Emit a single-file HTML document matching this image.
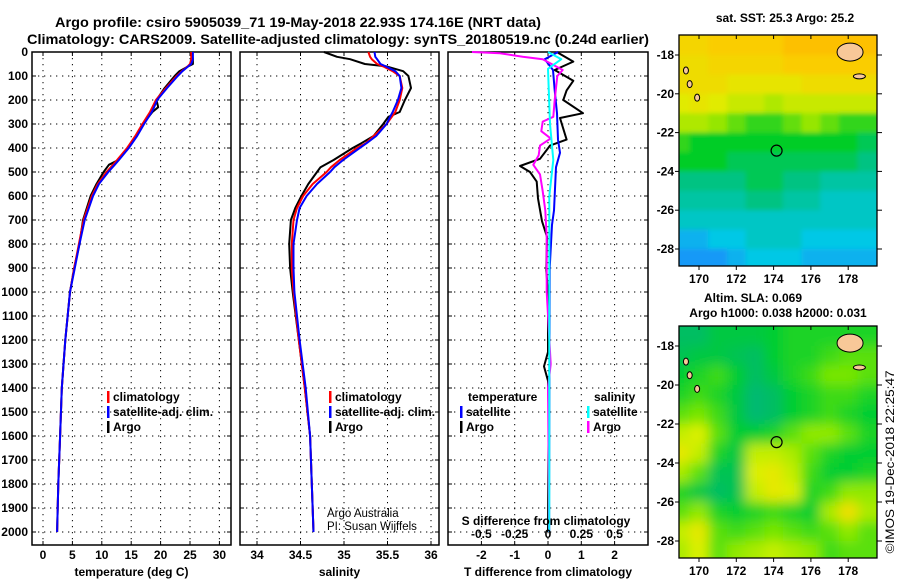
<!DOCTYPE html>
<html><head><meta charset="utf-8"><style>
html,body{margin:0;padding:0;background:#fff;}
svg{display:block;font-family:"Liberation Sans",sans-serif;font-weight:bold;}
</style></head><body>
<svg id="chart" width="900" height="580" viewBox="0 0 900 580" xmlns="http://www.w3.org/2000/svg">
<defs>
<clipPath id="clipTop"><rect x="679" y="35" width="198" height="231"/></clipPath>
<clipPath id="clipBot"><rect x="679" y="326" width="198" height="232"/></clipPath>
<filter id="blurS" x="-5%" y="-5%" width="110%" height="110%"><feGaussianBlur stdDeviation="2.5"/></filter>
<filter id="blurL" x="-5%" y="-5%" width="110%" height="110%"><feGaussianBlur stdDeviation="6"/></filter>
</defs>
<text x="298" y="27" text-anchor="middle" font-size="14" textLength="486" lengthAdjust="spacingAndGlyphs">Argo profile: csiro 5905039_71 19-May-2018 22.93S 174.16E (NRT data)</text>
<text x="338" y="44" text-anchor="middle" font-size="14" textLength="622" lengthAdjust="spacingAndGlyphs">Climatology: CARS2009. Satellite-adjusted climatology: synTS_20180519.nc (0.24d earlier)</text>
<text x="785" y="22" text-anchor="middle" font-size="12">sat. SST: 25.3 Argo: 25.2</text>
<text x="753" y="302" text-anchor="middle" font-size="12">Altim. SLA: 0.069</text>
<text x="778" y="317" text-anchor="middle" font-size="12">Argo h1000: 0.038 h2000: 0.031</text>
<text transform="translate(894,462) rotate(-90)" text-anchor="middle" font-size="12" font-weight="normal" textLength="183" lengthAdjust="spacingAndGlyphs">©IMOS 19-Dec-2018 22:25:47</text>
<g id="layer"></g>
</svg>
<script>
// ---- profile data ----
const tempDepth = [0,30,50,60,80,100,150,200,230,250,300,350,400,450,470,500,550,600,700,800,900,1000,1200,1400,1600,1800,2000];
const tempArgo  = [25.3,25.5,25.5,24.7,23.2,22.4,20.7,19.3,19.6,18.6,17,15.9,14.5,12.8,11.2,10.3,9.1,8.1,6.8,6.2,5.3,4.6,3.8,3.2,2.9,2.6,2.4];
const tempClim  = [25.2,25.2,25.0,24.6,23.6,22.7,20.9,19.2,18.6,18.2,16.9,15.7,14.3,12.6,11.9,10.8,9.3,8.3,6.9,6.1,5.3,4.6,3.8,3.2,2.9,2.6,2.4];
const tempSat   = [25.5,25.5,25.2,24.7,23.7,22.9,21.1,19.4,18.9,18.5,17.2,16.0,14.6,12.9,12.2,11.1,9.5,8.5,7.1,6.2,5.4,4.6,3.8,3.2,2.9,2.6,2.4];
const salDepth = [0,20,30,50,60,80,100,150,200,250,270,300,350,380,400,450,480,500,550,600,650,700,800,900,1000,1200,1400,1600,1800,2000];
const salArgo  = [34.77,34.92,35.07,35.24,35.49,35.68,35.74,35.77,35.70,35.64,35.51,35.45,35.34,35.2,35.1,34.88,34.73,34.69,34.59,34.51,34.44,34.39,34.37,34.38,34.41,34.48,34.55,34.61,34.63,34.65];
const salClim  = [35.28,35.3,35.32,35.38,35.45,35.56,35.64,35.67,35.64,35.59,35.55,35.49,35.34,35.25,35.15,34.95,34.85,34.80,34.64,34.53,34.46,34.42,34.40,34.40,34.42,34.48,34.55,34.61,34.63,34.65];
const salSat   = [35.35,35.36,35.38,35.42,35.48,35.59,35.64,35.66,35.62,35.56,35.53,35.49,35.37,35.26,35.18,34.99,34.89,34.84,34.69,34.57,34.49,34.46,34.42,34.42,34.43,34.49,34.56,34.61,34.63,34.65];
const dTArgoDepth = [0,40,75,120,160,200,255,275,365,390,445,475,500,540,610,705,770,910,1000,1250,1310,1370,1500,2000];
const dTArgo      = [0.26,0.76,0.2,0.76,0.56,0.46,1.05,0.36,0.56,0.06,-0.24,-0.84,-0.54,-0.34,-0.3,-0.18,-0.03,-0.05,0,0,-0.12,0,0.02,0];
const dTSatDepth = [0,30,75,160,255,365,420,480,660,720,900,2000];
const dTSat      = [0.3,-0.1,0.15,0.2,0.27,0.3,0.36,0.24,0.18,0.12,0.05,0.03];
const dSArgoDepth = [0,5,20,30,75,100,200,270,290,330,360,390,430,470,510,580,660,770,1000,1300,1400,2000];
const dSArgo      = [-0.57,-0.36,-0.19,-0.04,0.11,0.07,0.05,0.04,-0.04,-0.05,0.02,-0.06,-0.07,-0.11,-0.06,-0.04,-0.02,-0.01,-0.01,0.02,0.0,0.01];
const dSSatDepth = [0,30,70,300,450,600,2000];
const dSSat      = [0,0.1,0,0.015,0.04,0.01,0.01];
const depthTicks = [0,100,200,300,400,500,600,700,800,900,1000,1100,1200,1300,1400,1500,1600,1700,1800,1900,2000];
const tempTicks = [0,5,10,15,20,25,30];
const salTicks = [34,34.5,35,35.5,36];
const salTickLabels = ["34","34.5","35","35.5","36"];
const dTTicks = [-2,-1,0,1,2];
const dSTicks = [-0.5,-0.25,0,0.25,0.5];
const dSTickLabels = ["-0.5","-0.25","0","0.25","0.5"];
// ---- map data (rows lat -17.5 .. -28.5, cols lon 169 .. 179) ----
const mapLons = [169,170,171,172,173,174,175,176,177,178,179];
const mapLats = [-17.5,-18.5,-19.5,-20.5,-21.5,-22.5,-23.5,-24.5,-25.5,-26.5,-27.5,-28.5];
const sstGrid = [
[25.9,25.9,26,26,26,26,26.1,26.1,26.1,26.1,26.1],
[25.8,25.8,25.9,25.9,25.9,25.9,26,26,26,26,26],
[25.8,25.8,25.8,25.7,25.7,25.7,25.7,25.8,25.8,25.8,25.8],
[25.6,25.7,25.6,25.5,25.5,25.4,25.5,25.5,25.5,25.5,25.5],
[25.4,25.4,25.3,25.2,25.1,25.1,25.2,25.3,25.2,25.1,25.1],
[25.1,25.0,25.0,25.0,25.0,25.0,25.0,25.0,25.0,25.0,24.9],
[25.0,25.0,25.0,24.9,24.9,24.9,24.9,24.9,24.9,24.9,24.8],
[24.8,24.8,24.8,24.8,24.9,24.9,24.8,24.8,24.7,24.7,24.7],
[24.7,24.7,24.7,24.7,24.8,24.8,24.7,24.7,24.6,24.6,24.6],
[24.6,24.6,24.6,24.6,24.6,24.6,24.6,24.6,24.6,24.6,24.6],
[24.4,24.4,24.5,24.5,24.6,24.6,24.6,24.5,24.5,24.5,24.5],
[24.3,24.3,24.3,24.4,24.5,24.5,24.5,24.4,24.4,24.4,24.4]];
const slaGrid = [
[0.3,0.3,0.4,0.4,0.4,0.45,0.5,0.5,0.5,0.5,0.5],
[0.35,0.4,0.4,0.35,0.3,0.45,0.5,0.5,0.55,0.6,0.6],
[0.45,0.5,0.55,0.45,0.3,0.4,0.5,0.55,0.65,0.65,0.6],
[0.5,0.55,0.5,0.4,0.25,0.3,0.45,0.5,0.55,0.55,0.5],
[0.6,0.65,0.55,0.4,0.25,0.3,0.45,0.5,0.55,0.5,0.45],
[0.8,0.85,0.6,0.45,0.45,0.5,0.6,0.7,0.7,0.6,0.5],
[0.9,0.8,0.5,0.4,0.8,0.8,0.75,0.6,0.5,0.45,0.45],
[0.75,0.6,0.35,0.35,0.85,0.9,0.8,0.55,0.45,0.45,0.5],
[0.5,0.4,0.3,0.35,0.8,0.9,0.85,0.5,0.55,0.7,0.7],
[0.6,0.7,0.5,0.45,0.5,0.55,0.5,0.45,0.75,0.95,0.75],
[0.8,0.9,0.6,0.55,0.6,0.65,0.6,0.55,0.6,0.7,0.6],
[0.75,0.85,0.6,0.7,0.75,0.8,0.75,0.7,0.55,0.6,0.6]];
const mapLonTicks = [170,172,174,176,178];
const mapLatTicks = [-18,-20,-22,-24,-26,-28];
const argoLon = 174.16, argoLat = -22.93;

const NS = "http://www.w3.org/2000/svg";
const layer = document.getElementById('layer');
function mk(tag, attrs, parent){const e=document.createElementNS(NS,tag);for(const k in attrs)e.setAttribute(k,attrs[k]);(parent||layer).appendChild(e);return e;}

const PT=52, PB=545;
const yD = d => PT + d*0.24;
const panels = [
 {name:'temperature', x0:32, x1:231, sx: v=>43+v*5.88, ticks:tempTicks, labels:tempTicks.map(String), title:'temperature (deg C)'},
 {name:'salinity', x0:240, x1:439, sx: v=>257+(v-34)*87, ticks:salTicks, labels:salTickLabels, title:'salinity'},
 {name:'difference', x0:448, x1:648, sx: v=>548+v*33.3, ticks:dTTicks, labels:dTTicks.map(String), title:'T difference from climatology'}
];
const xDS = v => 548 + v*133.3;

panels.forEach((p,pi)=>{
  const g = mk('g',{});
  
  
  depthTicks.forEach(d=>{
    const l=mk('line',{x1:p.x0,x2:p.x1,y1:yD(d),y2:yD(d),stroke:'#000','stroke-width':1,'stroke-dasharray':'1.3,4.7'},g);
    
    
    mk('line',{x1:p.x0,x2:p.x0+4,y1:yD(d),y2:yD(d),stroke:'#000'},g);
    mk('line',{x1:p.x1-4,x2:p.x1,y1:yD(d),y2:yD(d),stroke:'#000'},g);
  });
  p.ticks.forEach((t,i)=>{
    const x=p.sx(t);
    const l=mk('line',{x1:x,x2:x,y1:PT,y2:PB,stroke:'#000','stroke-width':1,'stroke-dasharray':'1.3,4.7'},g);
    
    
    mk('line',{x1:x,x2:x,y1:PT,y2:PT+4,stroke:'#000'},g);
    mk('line',{x1:x,x2:x,y1:PB-4,y2:PB,stroke:'#000'},g);
    const tx=mk('text',{x:x,y:559,'text-anchor':'middle','font-size':12},g);
    tx.textContent=p.labels[i];
    
    
  });
  const tt=mk('text',{x:(p.x0+p.x1)/2,y:576,'text-anchor':'middle','font-size':12},g);
  tt.textContent=p.title;
  
  
  const fr=mk('rect',{x:p.x0,y:PT,width:p.x1-p.x0,height:PB-PT,fill:'none',stroke:'#000','stroke-width':1.5},g);
  
  
});
depthTicks.forEach(d=>{
  const t=mk('text',{x:28,y:yD(d)+4,'text-anchor':'end','font-size':12});
  t.textContent=String(d);
  
  
});

function line(depths, vals, sx, color, w, name){
  const pts = depths.map((d,i)=>sx(vals[i]).toFixed(1)+','+yD(d).toFixed(1)).join(' ');
  const pl = mk('polyline',{points:pts,fill:'none',stroke:color,'stroke-width':w,'stroke-linejoin':'round'});
  
  
}
const sT=panels[0].sx, sS=panels[1].sx, sD=panels[2].sx;
line(tempDepth,tempArgo,sT,'#000',2,'temperature-argo-line');
line(tempDepth,tempClim,sT,'#f00',2,'temperature-climatology-line');
line(tempDepth,tempSat,sT,'#00f',2,'temperature-satellite-line');
line(salDepth,salArgo,sS,'#000',2,'salinity-argo-line');
line(salDepth,salClim,sS,'#f00',2,'salinity-climatology-line');
line(salDepth,salSat,sS,'#00f',2,'salinity-satellite-line');
line(dTArgoDepth,dTArgo,sD,'#000',2,'t-diff-argo-line');
line(dTSatDepth,dTSat,sD,'#00f',2,'t-diff-satellite-line');
line(dSArgoDepth,dSArgo,xDS,'#f0f',2,'s-diff-argo-line');
line(dSSatDepth,dSSat,xDS,'#0ff',2,'s-diff-satellite-line');

// S axis labels inside diff panel
const sdt=mk('text',{x:546,y:525,'text-anchor':'middle','font-size':12});
sdt.textContent='S difference from climatology';


dSTicks.forEach((t,i)=>{
  const tx=mk('text',{x:xDS(t),y:538,'text-anchor':'middle','font-size':12});
  tx.textContent=dSTickLabels[i];
  
  
});
const aa=mk('text',{x:327,y:517,'font-size':11.5,'font-weight':'normal'});
aa.textContent='Argo Australia';


const pi2=mk('text',{x:327,y:530,'font-size':11.5,'font-weight':'normal'});
pi2.textContent='PI: Susan Wijffels';



function legend(x,y,color,label){
  const g=mk('g',{});
  
  
  mk('rect',{x:x,y:y-10,width:2.5,height:12,fill:color},g);
  const t=mk('text',{x:x+6,y:y,'font-size':12},g);
  t.textContent=label;
}
legend(107,401,'#f00','climatology');legend(107,416,'#00f','satellite-adj. clim.');legend(107,431,'#000','Argo');
legend(329,401,'#f00','climatology');legend(329,416,'#00f','satellite-adj. clim.');legend(329,431,'#000','Argo');
const lt=mk('text',{x:468,y:401,'font-size':12});lt.textContent='temperature';

const ls=mk('text',{x:594,y:401,'font-size':12});ls.textContent='salinity';

legend(460,416,'#00f','satellite');legend(460,431,'#000','Argo');
legend(587,416,'#0ff','satellite');legend(587,431,'#f0f','Argo');

// ---- maps ----
function lerpColor(stops, v){
  if(v<=stops[0][0]) return stops[0][1];
  for(let i=1;i<stops.length;i++){ if(v<=stops[i][0]){const a=stops[i-1],b=stops[i],f=(v-a[0])/(b[0]-a[0]);
    return 'rgb('+a[1].map((c,k)=>Math.round(c+(b[1][k]-c)*f)).join(',')+')';}}
  return stops[stops.length-1][1];
}
function rgb(a){return Array.isArray(a)?'rgb('+a.join(',')+')':a;}
const sstStops=[[24.2,[30,130,255]],[24.5,[0,200,230]],[24.8,[0,195,130]],[25.0,[0,205,40]],[25.3,[150,230,0]],[25.6,[225,235,0]],[26.0,[250,205,0]],[26.2,[255,180,0]]];
const slaStops=[[0.2,[0,180,130]],[0.45,[0,205,50]],[0.65,[120,230,0]],[0.85,[220,240,0]],[1.0,[250,215,0]]];

function drawMap(top,bottom,latY,grid,stops,filt,clip,name){
  const lonX = lon => 699 + (lon-170)*18.65;
  const g=mk('g',{'clip-path':'url(#'+clip+')'});
  
  
  const inner=mk('g',{filter:'url(#'+filt+')'},g);
  grid.forEach((row,r)=>row.forEach((v,c)=>{
    let x0=lonX(mapLons[c]-0.5), x1=lonX(mapLons[c]+0.5), y0=latY(mapLats[r]+0.5), y1=latY(mapLats[r]-0.5);
    if(c===0)x0-=20; if(c===row.length-1)x1+=20; if(r===0)y0-=20; if(r===grid.length-1)y1+=20;
    const col=lerpColor(stops,v);
    const cell=mk('rect',{x:x0,y:y0,width:x1-x0+0.5,height:y1-y0+0.5,fill:rgb(col)},inner);
    
    
  }));
  // land
  const fiji=mk('ellipse',{cx:lonX(178.1),cy:latY(-17.85),rx:13,ry:9,fill:'#f8c898',stroke:'#000','stroke-width':1},g);
  
  
  const vl=mk('ellipse',{cx:lonX(178.6),cy:latY(-19.1),rx:6,ry:2.5,fill:'#f8c898',stroke:'#000','stroke-width':1},g);
  
  [[169.3,-18.8],[169.5,-19.5],[169.9,-20.2]].forEach(p=>{
    const is=mk('ellipse',{cx:lonX(p[0]),cy:latY(p[1]),rx:2.5,ry:3.5,fill:'#f8c898',stroke:'#000','stroke-width':1},g);
    
  });
  const m=mk('circle',{cx:lonX(argoLon),cy:latY(argoLat),r:5.5,fill:'none',stroke:'#000','stroke-width':1.2});
  
  
  const fr=mk('rect',{x:679,y:top,width:198,height:bottom-top,fill:'none',stroke:'#000','stroke-width':1.3});
  
  
  mapLonTicks.forEach(l=>{
    const x=lonX(l);
    mk('line',{x1:x,x2:x,y1:top,y2:top+4,stroke:'#000'});
    mk('line',{x1:x,x2:x,y1:bottom,y2:bottom+4,stroke:'#000'});
    const t=mk('text',{x:x,y:bottom+17,'text-anchor':'middle','font-size':12});
    t.textContent=String(l);
    
    
  });
  mapLatTicks.forEach(l=>{
    const y=latY(l);
    mk('line',{x1:675,x2:679,y1:y,y2:y,stroke:'#000'});
    mk('line',{x1:877,x2:882,y1:y,y2:y,stroke:'#000'});
    const t=mk('text',{x:674,y:y+4,'text-anchor':'end','font-size':12});
    t.textContent=String(l);
    
    
  });
}
drawMap(35,266,lat=>55+(-18-lat)*19.4,sstGrid,sstStops,'blurS','clipTop','sst-map');
drawMap(326,558,lat=>346+(-18-lat)*19.5,slaGrid,slaStops,'blurL','clipBot','sla-map');
</script>
</body></html>
